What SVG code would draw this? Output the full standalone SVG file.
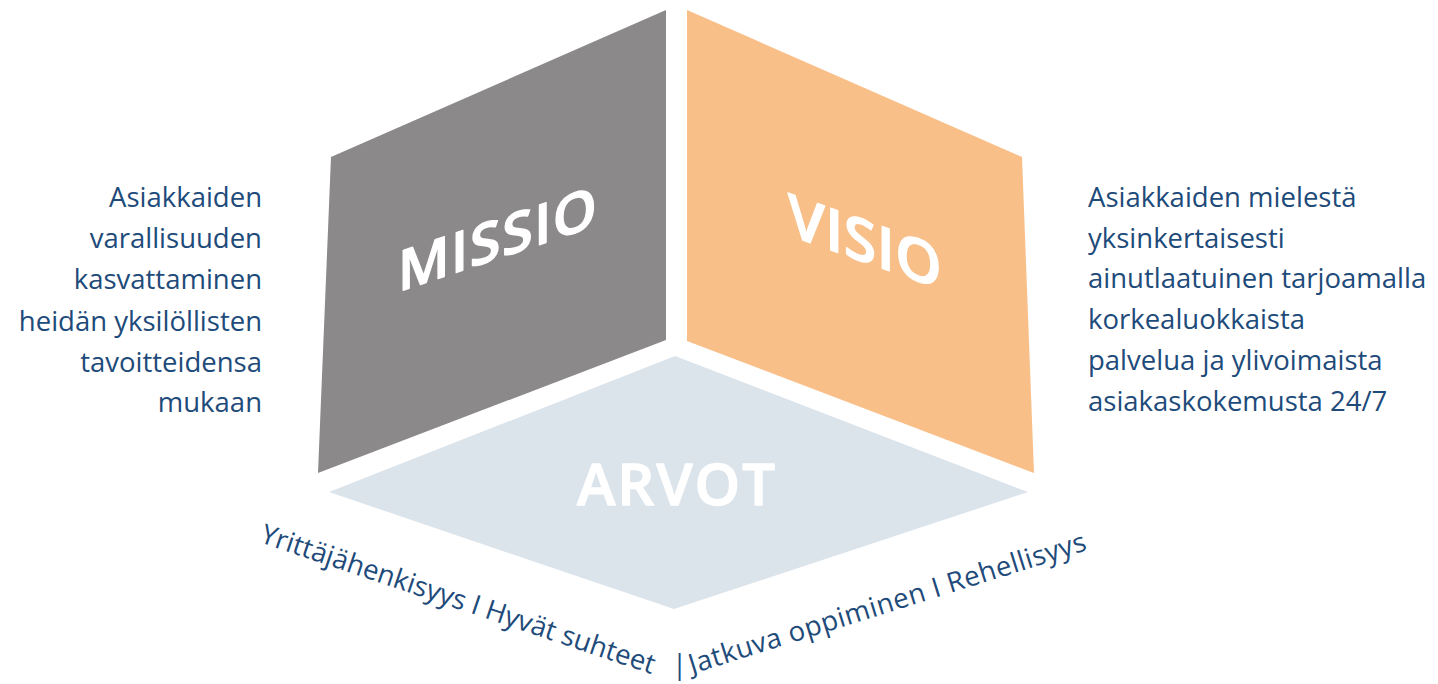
<svg xmlns="http://www.w3.org/2000/svg" width="1438" height="684" viewBox="0 0 1438 684">
<style>
.face-label{font-family:"Open Sans","Noto Sans","Liberation Sans",sans-serif;fill:#ffffff;font-weight:600;stroke:#ffffff;stroke-width:1.3;stroke-linejoin:round}
.desc{font-family:"Open Sans","Noto Sans","Liberation Sans",sans-serif;fill:#1e4b7a;font-size:27.5px}
.r{text-anchor:end}
</style>
<rect width="1438" height="684" fill="#ffffff"/>
<g id="missio">
<polygon points="331,157 666,10 666,340 318,473" fill="#8b898a"/>
<g transform="translate(398,292) skewY(-18.5)">
<text class="face-label" x="0" y="0" font-size="56" letter-spacing="1.5">MISSIO</text>
</g>
</g>
<g id="visio">
<polygon points="687,10 1022,157 1034,473 687,341" fill="#f9bf89"/>
<g transform="translate(788,235) skewY(19.5)">
<text class="face-label" x="0" y="0" font-size="59" letter-spacing="0.5">VISIO</text>
</g>
</g>
<g id="arvot">
<polygon points="675,356 1028,492 674,609 329,492" fill="#dbe3eb"/>
<text class="face-label" x="677" y="505" font-size="58" text-anchor="middle" letter-spacing="2">ARVOT</text>
</g>
<g id="missio-text">
<text class="desc r" x="262" y="207">Asiakkaiden</text>
<text class="desc r" x="262" y="248">varallisuuden</text>
<text class="desc r" x="262" y="289">kasvattaminen</text>
<text class="desc r" x="262" y="331">heidän yksilöllisten</text>
<text class="desc r" x="262" y="372">tavoitteidensa</text>
<text class="desc r" x="262" y="412">mukaan</text>
</g>
<g id="visio-text">
<text class="desc" x="1088" y="207">Asiakkaiden mielestä</text>
<text class="desc" x="1088" y="248">yksinkertaisesti</text>
<text class="desc" x="1088" y="288">ainutlaatuinen tarjoamalla</text>
<text class="desc" x="1088" y="329">korkealuokkaista</text>
<text class="desc" x="1088" y="370">palvelua ja ylivoimaista</text>
<text class="desc" x="1088" y="411">asiakaskokemusta 24/7</text>
</g>
<g id="arvot-text">
<text class="desc" transform="translate(259,542) rotate(18.6)">Yrittäjähenkisyys I Hyvät suhteet</text>
<text class="desc" x="672" y="674" font-size="25">|</text>
<text class="desc" transform="translate(692,674) rotate(-17.4)" letter-spacing="0.5">Jatkuva oppiminen I Rehellisyys</text>
</g>
</svg>
